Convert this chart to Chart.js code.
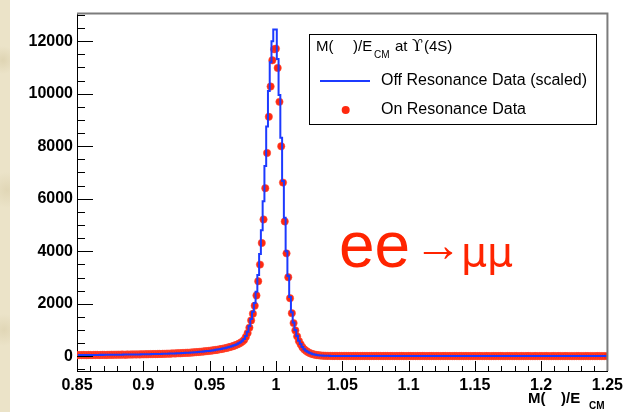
<!DOCTYPE html>
<html>
<head>
<meta charset="utf-8">
<script src="https://cdn.jsdelivr.net/npm/chart.js@4.4.1/dist/chart.umd.min.js"></script>
<style>
  html, body { margin: 0; padding: 0; background: #fff; }
  body { width: 628px; height: 412px; overflow: hidden; position: relative; }
  #strip {
    position: absolute; left: 0; top: 0; width: 10px; height: 412px;
    background:
      radial-gradient(circle at 3px 60px, rgba(200,185,140,0.35), transparent 14px),
      radial-gradient(circle at 7px 190px, rgba(200,185,140,0.3), transparent 18px),
      radial-gradient(circle at 4px 330px, rgba(200,185,140,0.3), transparent 16px),
      #ebe3c8;
  }
  #plot { position: absolute; left: 0; top: 0; }
</style>
</head>
<body>
<div id="strip"></div>
<canvas id="plot" width="628" height="412"></canvas>
<script>
// histogram range: 300 bins over M/E_CM = 0.85 .. 1.25
const histLo = 0.85
const histHi = 1.25
const nBins  = 300

const xTicks      = [0.85, 0.9, 0.95, 1, 1.05, 1.1, 1.15, 1.2, 1.25]
const xTickLabels = ['0.85', '0.9', '0.95', '1', '1.05', '1.1', '1.15', '1.2', '1.25']
const yTicks      = [0, 2000, 4000, 6000, 8000, 10000, 12000]

// on-resonance counts per bin
const onCounts = [
  42, 48, 45, 51, 47, 44, 52, 49, 46, 53,
  50, 55, 48, 52, 57, 54, 51, 58, 55, 60,
  57, 62, 59, 64, 60, 66, 63, 61, 68, 65,
  70, 67, 72, 69, 74, 71, 76, 73, 78, 75,
  80, 84, 81, 86, 83, 89, 92, 88, 95, 93,
  98, 102, 99, 106, 110, 107, 114, 118, 115, 123,
  127, 131, 136, 133, 142, 147, 152, 158, 163, 170,
  176, 183, 190, 197, 205, 214, 222, 232, 241, 252,
  263, 276, 289, 303, 318, 335, 352, 372, 394, 418,
  445, 478, 515, 560, 625, 735, 884, 1089, 1366, 1620,
  1924, 2315, 2858, 3491, 4315, 5210, 6402, 7742, 9120, 10273,
  11271, 11690, 11716, 10980, 9690, 7996, 6615, 5135, 3920, 3009,
  2212, 1643, 1264, 987, 759, 581, 455, 342, 266, 209,
  165, 130, 101, 80, 63, 50, 40, 33, 27, 23,
  19, 17, 15, 16, 14, 13, 15, 12, 14, 13,
  12, 14, 11, 13, 12, 10, 13, 11, 12, 10,
  11, 13, 10, 12, 11, 9, 12, 10, 11, 13,
  10, 12, 9, 11, 10, 12, 9, 11, 10, 8,
  11, 9, 10, 12, 9, 10, 8, 11, 10, 9,
  10, 8, 11, 9, 10, 12, 9, 8, 10, 9,
  9, 11, 8, 10, 9, 8, 10, 9, 11, 8,
  9, 10, 8, 9, 11, 8, 9, 10, 8, 9,
  10, 8, 9, 7, 10, 9, 8, 9, 10, 8,
  8, 9, 10, 8, 7, 9, 8, 10, 8, 9,
  9, 7, 8, 10, 8, 9, 7, 8, 9, 8,
  8, 9, 7, 8, 9, 10, 8, 7, 8, 9,
  7, 8, 9, 8, 7, 9, 8, 8, 7, 9,
  8, 7, 9, 8, 8, 7, 9, 7, 8, 8,
  7, 8, 8, 9, 7, 8, 7, 8, 9, 7,
  8, 7, 8, 7, 9, 8, 7, 8, 7, 8
]

// off-resonance counts per bin, already scaled
const offCounts = [
  45, 46, 49, 48, 50, 47, 50, 51, 48, 52,
  53, 52, 51, 55, 54, 56, 55, 57, 58, 57,
  60, 59, 61, 62, 63, 62, 65, 64, 66, 67,
  68, 69, 71, 70, 73, 72, 75, 76, 77, 78,
  81, 82, 84, 85, 87, 88, 91, 92, 94, 96,
  99, 101, 104, 106, 108, 111, 114, 117, 120, 123,
  127, 131, 134, 138, 143, 147, 152, 157, 163, 169,
  175, 182, 189, 197, 205, 214, 224, 234, 245, 257,
  269, 282, 296, 311, 327, 344, 363, 384, 407, 433,
  462, 497, 538, 590, 660, 770, 930, 1150, 1420, 1700,
  2030, 2460, 3100, 3900, 4800, 5900, 7250, 8750, 10100, 11200,
  12000, 12440, 12440, 11320, 9954, 8323, 6679, 5275, 4000, 3060,
  2260, 1680, 1290, 1005, 775, 595, 465, 352, 273, 214,
  169, 133, 104, 82, 65, 52, 42, 34, 28, 24,
  20, 18, 16, 15, 15, 14, 13, 13, 12, 13,
  12, 12, 11, 12, 11, 11, 12, 11, 10, 11,
  11, 10, 11, 10, 11, 10, 10, 11, 10, 10,
  10, 11, 10, 10, 9, 10, 10, 9, 10, 10,
  9, 10, 10, 9, 10, 9, 9, 10, 9, 9,
  10, 9, 9, 9, 10, 9, 9, 9, 8, 9,
  9, 9, 8, 9, 9, 9, 8, 9, 9, 8,
  9, 8, 9, 9, 8, 9, 8, 8, 9, 8,
  8, 9, 8, 8, 8, 9, 8, 8, 8, 8,
  8, 8, 9, 8, 8, 8, 8, 8, 7, 8,
  8, 8, 8, 7, 8, 8, 8, 7, 8, 8,
  8, 7, 8, 8, 7, 8, 8, 7, 8, 8,
  7, 8, 8, 7, 8, 7, 8, 8, 7, 8,
  8, 7, 8, 7, 8, 8, 7, 8, 7, 7,
  8, 7, 7, 8, 7, 8, 7, 7, 8, 7,
  7, 8, 7, 7, 8, 7, 7, 8, 7, 7
]

const FONT   = "'Liberation Sans', Arial, Helvetica, sans-serif"
const BLUE   = 'rgb(28,58,255)'
const RED    = 'rgb(255,40,14)'

const binWidth  = (histHi - histLo) / nBins
const binCenter = i => histLo + (i + 0.5) * binWidth

const onData  = onCounts.map((c, i) => ({ x: binCenter(i), y: c }))
const offData = offCounts.map((c, i) => ({ x: binCenter(i), y: c }))

// ROOT-style inward ticks plus grey top/right frame
const frameTicks = {
  id: 'frameTicks',
  afterDatasetsDraw(chart) {
    const { ctx, chartArea: a, scales: { x, y } } = chart
    ctx.save()
    ctx.strokeStyle = '#000'
    ctx.lineWidth = 1
    ctx.beginPath()
    for (let i = -1; i <= 26; i++) {
      const v = i * 500
      const py = Math.round(y.getPixelForValue(v)) + 0.5
      if (py < a.top || py > a.bottom) continue
      const len = v % 2000 === 0 ? 16 : 8
      ctx.moveTo(a.left, py)
      ctx.lineTo(a.left + len, py)
    }
    for (let i = 85; i <= 125; i++) {
      const px = Math.round(x.getPixelForValue(i / 100)) + 0.5
      const len = i % 5 === 0 ? 10 : 5
      ctx.moveTo(px, a.bottom)
      ctx.lineTo(px, a.bottom - len)
    }
    ctx.stroke()

    ctx.strokeStyle = '#7c7c7c'
    ctx.lineWidth = 2
    ctx.beginPath()
    ctx.moveTo(a.left, a.top)
    ctx.lineTo(a.right, a.top)
    ctx.lineTo(a.right, a.bottom)
    ctx.stroke()
    ctx.restore()
  }
}

// legend box, axis title and the process label
const annotations = {
  id: 'annotations',
  afterDraw(chart) {
    const { ctx } = chart
    ctx.save()
    ctx.textBaseline = 'alphabetic'

    // legend
    ctx.fillStyle = '#fff'
    ctx.fillRect(309, 34, 287, 90)
    ctx.strokeStyle = '#000'
    ctx.lineWidth = 1
    ctx.strokeRect(309.5, 34.5, 287, 90)

    ctx.fillStyle = '#000'
    ctx.font = `15px ${FONT}`
    ctx.fillText('M(', 316, 51)
    ctx.fillText(')/E', 353, 51)
    ctx.font = `10px ${FONT}`
    ctx.fillText('CM', 374, 58)
    ctx.font = `15px ${FONT}`
    ctx.fillText('at', 395, 51)
    ctx.font = `16px 'DejaVu Serif', 'Liberation Serif', serif`
    ctx.fillText('ϒ', 412, 51)
    ctx.font = `15px ${FONT}`
    ctx.fillText('(4S)', 424, 51)

    ctx.strokeStyle = BLUE
    ctx.lineWidth = 2
    ctx.beginPath()
    ctx.moveTo(320, 81)
    ctx.lineTo(370, 81)
    ctx.stroke()
    ctx.fillStyle = RED
    ctx.beginPath()
    ctx.arc(345.7, 110, 4, 0, Math.PI * 2)
    ctx.fill()

    ctx.fillStyle = '#000'
    ctx.font = `16px ${FONT}`
    ctx.textBaseline = 'middle'
    ctx.fillText('Off Resonance Data (scaled)', 381, 81)
    ctx.fillText('On Resonance Data', 381, 110)

    // x axis title
    ctx.textBaseline = 'alphabetic'
    ctx.font = `bold 15px ${FONT}`
    ctx.fillText('M(', 528, 403)
    ctx.fillText(')/E', 561, 403)
    ctx.font = `bold 10px ${FONT}`
    ctx.fillText('CM', 589, 409)

    // process label
    ctx.fillStyle = 'rgb(255,36,0)'
    ctx.font = `64px ${FONT}`
    ctx.fillText('ee', 339, 267)
    ctx.font = `bold 48px ${FONT}`
    ctx.fillText('→', 414, 261)
    ctx.font = `41px 'DejaVu Sans', sans-serif`
    ctx.fillText('μμ', 461, 266)
    ctx.restore()
  }
}

new Chart(document.getElementById('plot'), {
  type: 'scatter',
  data: {
    datasets: [
      {
        type: 'line',
        label: 'Off Resonance Data (scaled)',
        data: offData,
        stepped: 'middle',
        borderColor: BLUE,
        borderWidth: 2,
        pointRadius: 0,
        fill: false,
        order: 0
      },
      {
        label: 'On Resonance Data',
        data: onData,
        backgroundColor: RED,
        borderColor: 'rgba(255,80,60,0.55)',
        borderWidth: 1,
        pointRadius: 3.7,
        pointHoverRadius: 3.7,
        order: 1
      }
    ]
  },
  options: {
    responsive: false,
    animation: false,
    devicePixelRatio: 1,
    events: [],
    layout: { padding: { top: 12, right: 20, bottom: 0, left: 0 } },
    plugins: { legend: { display: false }, tooltip: { enabled: false } },
    scales: {
      x: {
        type: 'linear',
        min: histLo,
        max: histHi,
        afterBuildTicks: s => { s.ticks = xTicks.map(v => ({ value: v })) },
        afterFit: s => { s.height = 41 },
        grid: { display: false, drawTicks: false },
        border: { display: true, color: '#000', width: 1 },
        ticks: {
          autoSkip: false,
          maxRotation: 0,
          padding: 5,
          color: '#000',
          font: { family: FONT, size: 16, weight: 'bold' },
          callback: (v, i) => xTickLabels[i]
        }
      },
      y: {
        min: -560,
        max: 13050,
        afterBuildTicks: s => { s.ticks = yTicks.map(v => ({ value: v })) },
        afterFit: s => { s.width = 77 },
        grid: { display: false, drawTicks: false },
        border: { display: true, color: '#000', width: 1 },
        ticks: {
          padding: 4,
          color: '#000',
          font: { family: FONT, size: 16, weight: 'bold' },
          callback: v => String(v)
        }
      }
    }
  },
  plugins: [frameTicks, annotations]
})
</script>
</body>
</html>
